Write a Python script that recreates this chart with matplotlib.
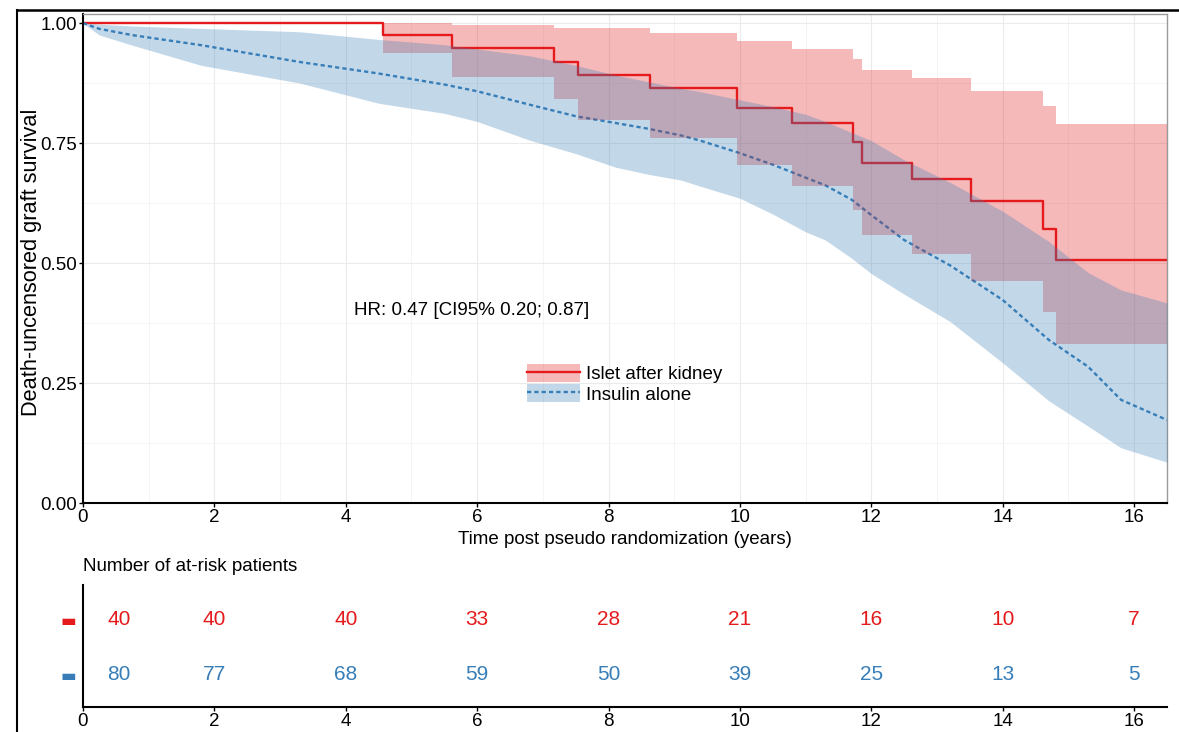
import numpy as np
import matplotlib
matplotlib.use('Agg')
import matplotlib.pyplot as plt
from matplotlib import font_manager
from matplotlib.lines import Line2D
from matplotlib.patches import Patch

# --- data ---
# Islet after kidney: KM step curve with 95% CI
islet_t = [0, 4.57, 5.62, 7.17, 7.53, 8.63, 9.95, 10.79, 11.72, 11.86, 12.62, 13.52, 14.61, 14.81, 16.5]
islet_s = [1.0, 0.975, 0.949, 0.919, 0.892, 0.864, 0.824, 0.791, 0.753, 0.708, 0.676, 0.629, 0.571, 0.506, 0.506]
islet_hi = [1.0, 1.0, 0.996, 0.99, 0.99, 0.979, 0.963, 0.947, 0.926, 0.902, 0.885, 0.858, 0.827, 0.790, 0.790]
islet_lo = [1.0, 0.938, 0.888, 0.841, 0.798, 0.760, 0.704, 0.660, 0.61, 0.558, 0.519, 0.462, 0.398, 0.331, 0.331]

# Insulin alone: many small steps, read as a curve with 95% CI
insulin_t = [0, 0.25, 0.75, 1.8, 3.3, 4.5, 5.5, 6.0, 6.8, 7.5, 8.1, 8.6, 9.1, 9.4, 10.0,
             10.5, 11.0, 11.3, 11.7, 12.0, 12.5, 13.2, 14.0, 14.7, 15.3, 15.8, 16.5]
insulin_s = [1.0, 0.988, 0.975, 0.954, 0.919, 0.895, 0.872, 0.858, 0.830, 0.806, 0.792, 0.780, 0.766, 0.755, 0.729,
             0.705, 0.678, 0.662, 0.632, 0.600, 0.548, 0.495, 0.423, 0.340, 0.284, 0.215, 0.173]
insulin_hi = [1.0, 0.998, 0.994, 0.989, 0.982, 0.966, 0.955, 0.946, 0.932, 0.912, 0.892, 0.878, 0.864, 0.857, 0.840,
              0.826, 0.810, 0.795, 0.772, 0.755, 0.715, 0.668, 0.608, 0.545, 0.480, 0.444, 0.417]
insulin_lo = [1.0, 0.975, 0.954, 0.912, 0.875, 0.833, 0.812, 0.795, 0.756, 0.728, 0.700, 0.685, 0.673, 0.660, 0.635,
              0.602, 0.565, 0.548, 0.510, 0.478, 0.435, 0.378, 0.292, 0.213, 0.160, 0.115, 0.085]

risk_times = [0, 2, 4, 6, 8, 10, 12, 14, 16]
risk_islet = [40, 40, 40, 33, 28, 21, 16, 10, 7]
risk_insulin = [80, 77, 68, 59, 50, 39, 25, 13, 5]

labels = ['Islet after kidney', 'Insulin alone']
hr_text = 'HR: 0.47 [CI95% 0.20; 0.87]'

RED = '#E41A1C'
BLUE = '#377EB8'

names = {f.name for f in font_manager.fontManager.ttflist}
if 'Liberation Sans Narrow' in names:
    TXT, fs = 'Liberation Sans Narrow', 16
else:
    TXT, fs = 'Liberation Sans', 13.5
plt.rcParams['font.family'] = [TXT, 'DejaVu Sans']

W, H = 1179, 732
fig = plt.figure(figsize=(W / 100, H / 100), dpi=100)

def box(l, t, r, b):
    return [l / W, 1 - b / H, (r - l) / W, (b - t) / H]

ax = fig.add_axes(box(83, 14, 1167, 503))
axr = fig.add_axes(box(83, 585, 1167, 707))

# curves first, ribbons on top (as in the reference)
ax.plot(islet_t, islet_s, drawstyle='steps-post', color=RED, lw=1.7, zorder=2)
ax.plot(insulin_t, insulin_s, color=BLUE, lw=1.7, ls=(0, (1.8, 1.3)), zorder=2)
ax.fill_between(islet_t, islet_lo, islet_hi, step='post', color=RED, alpha=0.3, lw=0, zorder=3)
ax.fill_between(insulin_t, insulin_lo, insulin_hi, color=BLUE, alpha=0.3, lw=0, zorder=4)

ax.set_xlim(0, 16.5)
ax.set_ylim(0, 1.019)
ax.set_xticks(np.arange(0, 17, 2))
ax.set_xticks(np.arange(1, 17, 2), minor=True)
ax.set_yticks([0, 0.25, 0.5, 0.75, 1.0])
ax.set_yticks([0.125, 0.375, 0.625, 0.875], minor=True)
ax.set_yticklabels(['0.00', '0.25', '0.50', '0.75', '1.00'])
ax.grid(which='major', color='#ebebeb', lw=0.8, zorder=0)
ax.grid(which='minor', color='#f3f3f3', lw=0.6, zorder=0)
ax.set_axisbelow(True)
ax.tick_params(which='major', length=3, width=1, pad=1, labelsize=fs, colors='black')
ax.tick_params(which='minor', length=0)
for s in ['left', 'bottom']:
    ax.spines[s].set_color('black')
    ax.spines[s].set_linewidth(1.5)
for s in ['top', 'right']:
    ax.spines[s].set_color('#9a9a9a')
    ax.spines[s].set_linewidth(1.0)

ax.set_xlabel('Time post pseudo randomization (years)', fontsize=fs)
ax.xaxis.set_label_coords(0.5, -0.058)
ax.set_ylabel('Death-uncensored graft survival', fontsize=15.7, family=['Liberation Sans', 'DejaVu Sans'])
ax.yaxis.set_label_coords(-0.038, 0.493)

ax.text(5.92, 0.402, hr_text, ha='center', va='center', fontsize=fs)

handles = [
    (Patch(facecolor=RED, alpha=0.3, lw=0), Line2D([], [], color=RED, lw=1.7)),
    (Patch(facecolor=BLUE, alpha=0.3, lw=0), Line2D([], [], color=BLUE, lw=1.7, ls=(0, (1.8, 1.3)))),
]
fig.legend(handles, labels, loc='upper left', bbox_to_anchor=(527 / W, 1 - 364 / H),
           frameon=False, fontsize=fs, borderpad=0, borderaxespad=0,
           handlelength=2.8, handleheight=1.07, handletextpad=0.32, labelspacing=0.06)

# risk table
for t, n1, n2 in zip(risk_times, risk_islet, risk_insulin):
    xt = t if t > 0 else 0.55
    axr.text(xt, 2, str(n1), color=RED, ha='center', va='center', fontsize=15)
    axr.text(xt, 1, str(n2), color=BLUE, ha='center', va='center', fontsize=15)
axr.set_xlim(0, 16.5)
axr.set_ylim(0.4, 2.62)
axr.set_xticks(np.arange(0, 17, 2))
axr.set_yticks([1, 2])
axr.set_yticklabels(['\u25ac', '\u25ac'], family='DejaVu Sans', fontsize=12)
for lab, c in zip(axr.get_yticklabels(), [BLUE, RED]):
    lab.set_color(c)
axr.tick_params(axis='y', length=0, pad=5)
axr.tick_params(axis='x', length=3, width=1, pad=1, labelsize=fs)
for s in ['top', 'right']:
    axr.spines[s].set_visible(False)
for s in ['left', 'bottom']:
    axr.spines[s].set_color('black')
    axr.spines[s].set_linewidth(1.5)
axr.text(0, 1.155, 'Number of at-risk patients', transform=axr.transAxes,
         ha='left', va='center', fontsize=fs)

# outer frame
fig.add_artist(Line2D([17 / W, 17 / W], [0, 1 - 10 / H], color='black', lw=1.5))
fig.add_artist(Line2D([17 / W, 1], [1 - 10 / H, 1 - 10 / H], color='black', lw=1.8))

fig.savefig('out.png', dpi=100)
